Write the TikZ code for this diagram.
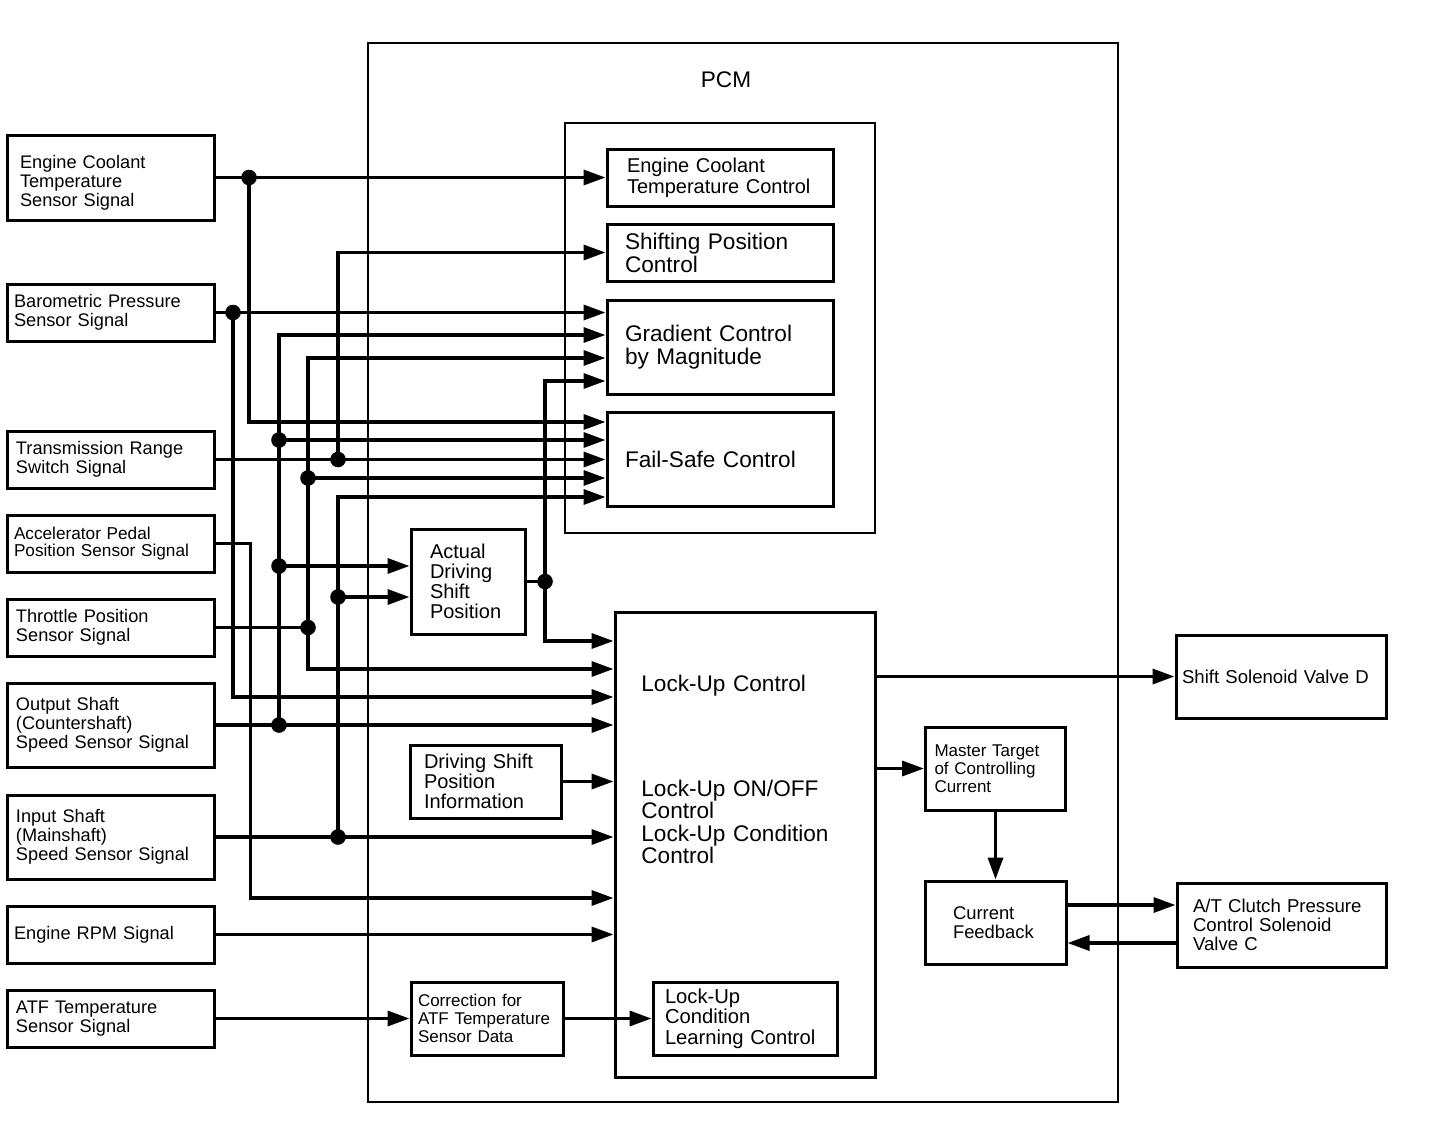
\documentclass[tikz,border=0pt]{standalone}
\usepackage{fontspec}
\setmainfont{Liberation Sans}
\usetikzlibrary{arrows.meta,calc}
\tikzset{%
	sigbox/.style   = {draw, line width=1.5pt, align=left, inner xsep=4.5pt, text width=94.5pt, font=\fontsize{9.1}{9.6}\selectfont},
	ctrlbox/.style  = {draw, line width=1.5pt, align=left, inner xsep=9pt, text width=95pt, font=\fontsize{11.3}{11.5}\selectfont},
	smallbox/.style = {draw, line width=1.5pt, align=left, font=\fontsize{8.5}{9}\selectfont},
	frame/.style    = {draw, line width=1.4pt, inner sep=0pt},
	lutext/.style   = {inner sep=0pt, align=left, text width=110pt, font=\fontsize{11.3}{11.3}\selectfont},
	wire/.style     = {line width=1.7pt},
	arrow/.style    = {line width=1.7pt, -{Triangle[length=11pt,width=7.5pt]}},
}

\begin{document}
\begin{tikzpicture}[x=0.5pt,y=-0.5pt]
	\useasboundingbox (0,0) rectangle (1440,1124);
	
	% PCM frame and control group
	\node[frame, minimum width=375pt, minimum height=529.5pt] (pcm) at (743,572.5) {};
	\node[font=\fontsize{11.3}{12}\selectfont] (pcmLabel) at (726,80) {PCM};
	\node[frame, minimum width=155pt, minimum height=205pt] (ctrl) at (720,328) {};
	
	% input signals
	\node[sigbox, inner xsep=6.5pt, text width=90.5pt, minimum height=42.5pt, text depth=16pt] (ect) at (110.5,177.5) {Engine Coolant\\Temperature\\Sensor Signal};
	\node[sigbox, inner xsep=3.5pt, text width=96.5pt, minimum height=28.5pt] (baro) at (110.5,312.5) {Barometric Pressure\\Sensor Signal};
	\node[sigbox, minimum height=28.5pt] (trs) at (110.5,459.5) {Transmission Range\\Switch Signal};
	\node[sigbox, inner xsep=3.5pt, text width=96.5pt, minimum height=28.5pt, font=\fontsize{8.6}{8.9}\selectfont] (app) at (110.5,543.5) {Accelerator Pedal\\Position Sensor Signal};
	\node[sigbox, minimum height=28.5pt] (tps) at (110.5,627.5) {Throttle Position\\Sensor Signal};
	\node[sigbox, minimum height=42pt] (oss) at (110.5,725) {Output Shaft\\(Countershaft)\\Speed Sensor Signal};
	\node[sigbox, minimum height=42pt] (iss) at (110.5,837) {Input Shaft\\(Mainshaft)\\Speed Sensor Signal};
	\node[sigbox, inner xsep=3.5pt, text width=96.5pt, minimum height=28.5pt] (rpm) at (110.5,934.5) {Engine RPM Signal};
	\node[sigbox, minimum height=28.5pt] (atf) at (110.5,1018.5) {ATF Temperature\\Sensor Signal};
	
	% controls
	\node[ctrlbox, font=\fontsize{10}{10.5}\selectfont, inner xsep=10pt, text width=93pt, minimum height=28.5pt] (ectc) at (720,177.5) {Engine Coolant\\Temperature Control};
	\node[ctrlbox, minimum height=28.5pt] (spc) at (720,252.5) {Shifting Position\\Control};
	\node[ctrlbox, minimum height=47pt] (grad) at (720,347) {Gradient Control\\by Magnitude};
	\node[ctrlbox, minimum height=47pt] (fs) at (720,459) {Fail-Safe Control};
	
	\node[smallbox, font=\fontsize{10}{10}\selectfont, inner xsep=9.5pt, text width=38pt, minimum height=52.5pt] (ads) at (468,581.5) {Actual\\Driving\\Shift\\Position};
	\node[smallbox, font=\fontsize{10}{10}\selectfont, inner xsep=7pt, text width=61.5pt, minimum height=36.5pt] (dspi) at (485.5,781.5) {Driving Shift\\Position\\Information};
	\node[smallbox, inner xsep=3.5pt, text width=69pt, minimum height=36.5pt] (corr) at (487,1018.5) {Correction for\\ATF Temperature\\Sensor Data};
	
	% lock-up
	\node[frame, line width=1.5pt, minimum width=130pt, minimum height=232.5pt] (lu) at (745,844.5) {};
	\node[lutext, anchor=base west] (luCtrl) at (641,691.7) {Lock-Up Control};
	\node[lutext, anchor=base west] (luOnOff) at (641,796) {Lock-Up ON/OFF\\Control};
	\node[lutext, anchor=base west] (luCond) at (641,841) {Lock-Up Condition\\Control};
	\node[smallbox, font=\fontsize{10.1}{10.2}\selectfont, inner xsep=6pt, text width=80pt, minimum height=36.5pt] (luclc) at (745,1018.5) {Lock-Up\\Condition\\Learning Control};
	
	% outputs
	\node[smallbox, inner xsep=4.5pt, text width=61pt, minimum height=41.5pt] (mtc) at (995.5,768.5) {Master Target\\of Controlling\\Current};
	\node[smallbox, font=\fontsize{9.2}{9.5}\selectfont, inner xsep=14pt, text width=42.5pt, minimum height=41.5pt] (cfb) at (995.5,922.5) {Current\\Feedback};
	\node[smallbox, font=\fontsize{9.3}{9.6}\selectfont, inner xsep=3pt, text width=99pt, minimum height=41.5pt] (ssd) at (1281,676.5) {Shift Solenoid Valve D};
	\node[smallbox, font=\fontsize{9.3}{9.5}\selectfont, inner xsep=8pt, text width=88.5pt, minimum height=42pt] (atc) at (1281.5,925) {A/T Clutch Pressure\\Control Solenoid\\Valve C};
	
	% junctions
	\coordinate (jEct)  at (249,177.5);
	\coordinate (jBaro) at (233,312.5);
	\coordinate (jTrs)  at (338,459.5);
	\coordinate (jTps)  at (308,627.5);
	\coordinate (jOss)  at (279,725);
	\coordinate (jIss)  at (338,837);
	\coordinate (jAds)  at (545,581.5);
	
	% ports
	\coordinate (fs1)  at ($(fs.west)+(0,-37)$);
	\coordinate (fs2)  at ($(fs.west)+(0,-19)$);
	\coordinate (fs4)  at ($(fs.west)+(0,19)$);
	\coordinate (fs5)  at ($(fs.west)+(0,38)$);
	\coordinate (gr2)  at ($(grad.west)+(0,-12)$);
	\coordinate (gr3)  at ($(grad.west)+(0,11)$);
	\coordinate (gr4)  at ($(grad.west)+(0,34)$);
	\coordinate (ads1) at ($(ads.west)+(0,-15.5)$);
	\coordinate (ads2) at ($(ads.west)+(0,15.5)$);
	\coordinate (lu1)  at ($(lu.west)+(0,-203.5)$);
	\coordinate (lu2)  at ($(lu.west)+(0,-175.5)$);
	\coordinate (lu3)  at ($(lu.west)+(0,-147.5)$);
	\coordinate (lu7)  at ($(lu.west)+(0,53.5)$);
	\coordinate (cfbOut) at ($(cfb.east)+(0,-17.5)$);
	\coordinate (cfbIn)  at ($(cfb.east)+(0,20.5)$);
	
	% direct lines
	\draw[arrow] (ect) -- (ectc);
	\draw[arrow] (baro.east) -- (baro.east -| grad.west);
	\draw[arrow] (trs.east) -- (trs.east -| fs.west);
	\draw[wire] (tps.east) -- (jTps);
	\draw[arrow] (oss.east) -- (oss.east -| lu.west);
	\draw[arrow] (iss.east) -- (iss.east -| lu.west);
	\draw[arrow] (rpm.east) -- (rpm.east -| lu.west);
	\draw[arrow] (app.east) -- ++(35,0) |- (lu7);
	\draw[arrow] (atf) -- (corr);
	\draw[arrow] (corr) -- (luclc);
	\draw[wire] (ads.east) -- (jAds);
	\draw[arrow] (dspi.east) -- (dspi.east -| lu.west);
	
	% buses
	\draw[arrow] (jEct) |- (fs1);
	\draw[arrow] (jBaro) |- (lu3);
	\draw[arrow] (jTrs) |- (spc.west);
	\draw[arrow] (jOss) |- (gr2);
	\draw[arrow] (jOss |- fs2) -- (fs2);
	\draw[arrow] (jOss |- ads1) -- (ads1);
	\draw[arrow] (jTps) |- (gr3);
	\draw[arrow] (jTps) |- (lu2);
	\draw[arrow] (jTps |- fs4) -- (fs4);
	\draw[arrow] (jIss) |- (fs5);
	\draw[arrow] (jIss |- ads2) -- (ads2);
	\draw[arrow] (jAds) |- (gr4);
	\draw[arrow] (jAds) |- (lu1);
	
	\foreach \j in {jEct,jBaro,jTrs,jTps,jOss,jIss,jAds,{jOss |- fs2},{jOss |- ads1},{jTps |- fs4},{jIss |- ads2}}
		\fill (\j) circle (3.9pt);
	
	% outputs
	\draw[arrow] (ssd.west -| lu.east) -- (ssd.west);
	\draw[arrow] (mtc.west -| lu.east) -- (mtc.west);
	\draw[arrow] (mtc) -- (cfb);
	\draw[arrow] (cfbOut) -- (cfbOut -| atc.west);
	\draw[arrow] (cfbIn -| atc.west) -- (cfbIn);
	
\end{tikzpicture}
\end{document}
